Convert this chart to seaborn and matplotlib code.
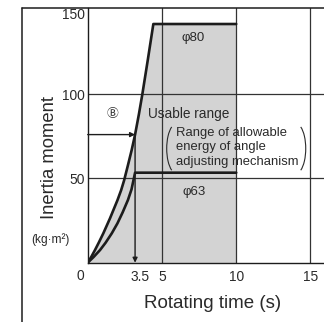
import matplotlib
matplotlib.use("Agg")
import matplotlib.pyplot as plt
import matplotlib.transforms as mtransforms
import seaborn as sns
import pandas as pd
from matplotlib.patches import Arc
from matplotlib.lines import Line2D

# ---- data ----
phi80_t = [0, 0.25, 0.49, 0.75, 1.05, 1.5, 2.0, 2.25, 2.45, 2.7, 2.96, 3.19,
           3.45, 3.68, 4.05, 4.42, 10]
phi80_I = [0, 3.6, 7.5, 12.0, 17.4, 26.3, 37.0, 43.0, 48.8, 57.5, 66.8, 76.0,
           88.2, 100.0, 120.5, 141.6, 141.6]
phi63_t = [0, 0.4, 0.83, 1.2, 1.62, 2.0, 2.35, 2.71, 2.95, 3.19, 10]
phi63_I = [0, 3.4, 7.5, 11.8, 17.4, 23.3, 29.8, 37.2, 43.5, 53.4, 53.4]
example_inertia = 76.0      # (B)
example_time = 3.19         # drawn position of the 3.5 s example
x_ticks = [3.5, 5, 10, 15]
x_ticklabels = ["3.5", "5", "10", "15"]
y_ticks = [50, 100]
y_ticklabels = ["50", "100"]
grid_x = [5, 10, 15]
grid_y = [50, 100]

sns.set_theme(style="white")
plt.rcParams["font.family"] = ["Liberation Sans", "DejaVu Sans"]

LINE = "#1c1c1c"
TXT = "#2a2a2a"

fig = plt.figure(figsize=(3.24, 3.22), dpi=100)
ax = fig.add_axes([87.7 / 324, (322 - 262.7) / 322, 1 - 87.7 / 324, (262.7 - 8) / 322])

# gray usable area
ax.fill_between(phi80_t, phi80_I, 0, color="#d3d3d3", lw=0, zorder=0)

for gx in grid_x:
    ax.axvline(gx, color="#333333", lw=0.9, zorder=1)
for gy in grid_y:
    ax.axhline(gy, color="#333333", lw=0.9, zorder=1)

df80 = pd.DataFrame({"t": phi80_t, "I": phi80_I})
df63 = pd.DataFrame({"t": phi63_t, "I": phi63_I})
sns.lineplot(data=df80, x="t", y="I", ax=ax, color=LINE, lw=1.9, sort=False,
             estimator=None, zorder=3)
sns.lineplot(data=df63, x="t", y="I", ax=ax, color=LINE, lw=1.9, sort=False,
             estimator=None, zorder=3)

# example arrows
arrow_kw = dict(arrowstyle="-|>", color=LINE, lw=1.0, mutation_scale=7,
                shrinkA=0, shrinkB=0)
ax.annotate("", xy=(example_time, example_inertia), xytext=(0, example_inertia),
            arrowprops=arrow_kw, zorder=4)
ax.annotate("", xy=(example_time, 0), xytext=(example_time, example_inertia),
            arrowprops=arrow_kw, zorder=4)

ax.set_xlim(0, 15.91)
ax.set_ylim(0, 151.1)
ax.set_xlabel("")
ax.set_ylabel("")

for s in ["top", "right"]:
    ax.spines[s].set_visible(False)
for s in ["left", "bottom"]:
    ax.spines[s].set_color(LINE)
    ax.spines[s].set_linewidth(1.0)

ax.set_xticks(x_ticks)
ax.set_xticklabels(x_ticklabels)
ax.set_yticks(y_ticks)
ax.set_yticklabels(y_ticklabels)
ax.tick_params(axis="both", length=0, labelsize=9.9, labelcolor=TXT)
ax.tick_params(axis="x", pad=5)
ax.tick_params(axis="y", pad=2)

ax.annotate("0", xy=(0, 0), xytext=(-5.5, -9.6), textcoords="offset points",
            ha="center", va="center", fontsize=9.9, color=TXT, annotation_clip=False)
ax.annotate("150", xy=(0, 150), xytext=(-2, -3.7), textcoords="offset points",
            ha="right", va="center", fontsize=9.9, color=TXT, annotation_clip=False)

# labels inside the chart
ax.text(7.09, 133.3, "φ80", ha="center", va="center", fontsize=9.5, color=TXT)
ax.text(7.19, 42.1, "φ63", ha="center", va="center", fontsize=9.5, color=TXT)
ax.text(1.64, 88.8, "Ⓑ", ha="center", va="center", fontsize=8.5, color=TXT,
        family=["DejaVu Sans", "Noto Sans CJK JP"])
ax.text(4.06, 88.0, "Usable range", ha="left", va="center", fontsize=9.8, color=TXT)
ax.text(5.95, 68.6, "Range of allowable\nenergy of angle\nadjusting mechanism",
        ha="left", va="center", fontsize=9.4, linespacing=1.28, color=TXT)

# bracket arcs drawn in inch units, anchored at data points
def paren(x, y, t1, t2):
    tr = fig.dpi_scale_trans + mtransforms.ScaledTranslation(x, y, ax.transData)
    ax.add_patch(Arc((0, 0), 0.2, 0.5, theta1=t1, theta2=t2, transform=tr,
                     color=TXT, lw=0.8, clip_on=False))

paren(5.32 + 0.673, 67.7, 103, 257)
paren(14.68 - 0.673, 67.7, -77, 77)

# axis titles
fig.text(50 / 324, 1 - 158 / 322, "Inertia moment", rotation=90, ha="center",
         va="center", fontsize=13.3, color=TXT)
fig.text(50 / 324, 1 - 240 / 322, "(kg·m²)", ha="center", va="center",
         fontsize=8.6, color=TXT)
fig.text(213 / 324, 1 - 304 / 322, "Rotating time (s)", ha="center",
         va="center", fontsize=13.5, color=TXT)

# outer frame
fig.add_artist(Line2D([22 / 324, 22 / 324], [0, 1 - 8 / 322],
                      transform=fig.transFigure, color=LINE, lw=1.1))
fig.add_artist(Line2D([22 / 324, 1], [1 - 8 / 322, 1 - 8 / 322],
                      transform=fig.transFigure, color=LINE, lw=1.1))

fig.savefig("out.png", dpi=100)
